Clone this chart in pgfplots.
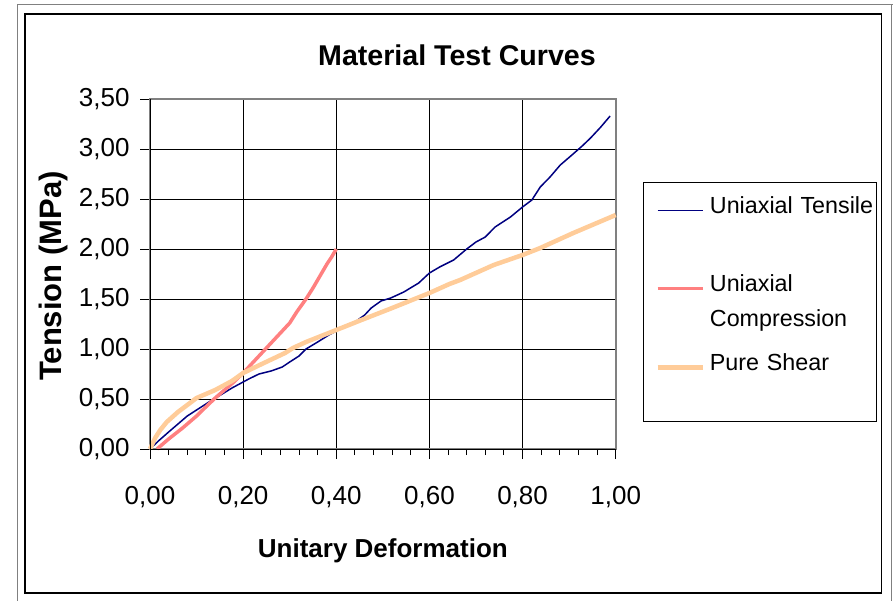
\documentclass[border=0pt]{standalone}
\usepackage{fontspec}
\setmainfont{Liberation Sans}
\usepackage{pgfplots}
\pgfplotsset{compat=1.18}
\definecolor{tensile}{HTML}{000080}
\definecolor{compr}{HTML}{FF8080}
\definecolor{shear}{HTML}{FFCC99}
\definecolor{frame}{HTML}{808080}

\pgfplotstableread{
x y
0 0
0.018 0.08
0.04 0.17
0.06 0.25
0.08 0.33
0.10 0.39
0.13 0.48
0.155 0.55
0.176 0.61
0.20 0.67
0.212 0.70
0.234 0.75
0.26 0.78
0.284 0.82
0.30 0.87
0.32 0.93
0.335 1.00
0.36 1.07
0.384 1.14
0.40 1.18
0.44 1.27
0.461 1.34
0.475 1.41
0.496 1.48
0.517 1.51
0.545 1.57
0.577 1.66
0.60 1.76
0.622 1.82
0.652 1.89
0.68 2.00
0.70 2.07
0.72 2.12
0.741 2.22
0.774 2.32
0.80 2.42
0.82 2.49
0.838 2.62
0.859 2.72
0.881 2.84
0.906 2.94
0.928 3.03
0.946 3.11
0.968 3.22
0.988 3.33
}\tensile

\pgfplotstableread{
x y
0.015 0
0.04 0.10
0.07 0.21
0.10 0.33
0.122 0.43
0.14 0.51
0.16 0.59
0.18 0.67
0.20 0.76
0.22 0.86
0.24 0.96
0.26 1.06
0.28 1.16
0.30 1.26
0.315 1.37
0.335 1.50
0.35 1.61
0.365 1.73
0.38 1.85
0.39 1.92
0.40 2.00
}\compression

\pgfplotstableread{
x y
0 0
0.011 0.11
0.022 0.19
0.036 0.27
0.06 0.37
0.08 0.44
0.10 0.51
0.14 0.59
0.176 0.68
0.20 0.76
0.24 0.85
0.29 0.96
0.307 1.01
0.335 1.07
0.40 1.19
0.454 1.29
0.52 1.41
0.60 1.56
0.643 1.65
0.666 1.69
0.738 1.84
0.80 1.94
0.838 2.01
0.909 2.16
1.0 2.34
}\shear

\begin{document}
\begin{tikzpicture}[x=1pt,y=1pt]
\useasboundingbox (0,0) rectangle (893,600);
\draw[frame, line width=1pt] (17,-10) -- (17,595) -- (905,595);
\draw[frame, line width=1pt] (891.7,595) -- (891.7,-10);
\draw[black, line width=1.3pt] (25,7) rectangle (881.5,586);
\node[font=\bfseries\fontsize{28.6}{34}\selectfont, anchor=base] at (457,534) {Material Test Curves};
\begin{axis}[
  at={(150pt,151pt)}, anchor=south west,
  scale only axis, width=465.7pt, height=350pt,
  xmin=0, xmax=1, ymin=0, ymax=3.5,
  xtick={0,0.2,0.4,0.6,0.8,1},
  ytick={0,0.5,1,1.5,2,2.5,3,3.5},
  minor x tick num=4,
  tick align=outside, tick pos=left,
  major tick length=10pt, minor tick length=6pt,
  every tick/.style={black, line width=0.9pt},
  grid=major, major grid style={black, line width=0.9pt},
  axis line style={frame, line width=1.8pt},
  clip=false,
  tick label style={font=\fontsize{26}{30}\selectfont},
  xticklabel style={yshift=-24pt},
  yticklabel style={xshift=-7pt},
  /pgf/number format/use comma,
  /pgf/number format/fixed,
  /pgf/number format/fixed zerofill,
  /pgf/number format/precision=2,
  /pgf/number format/assume math mode=true,
  xlabel={Unitary Deformation},
  ylabel={Tension (MPa)},
  xlabel style={font=\bfseries\fontsize{26}{30}\selectfont, at={(axis description cs:0.5,-0.3086)}, anchor=base},
  ylabel style={font=\bfseries\fontsize{31}{36}\selectfont, at={(axis description cs:-0.189,0.494)}, anchor=base},
  every axis legend/.style={
    at={(axis description cs:1.0586,0.7629)}, anchor=north west,
    draw=black, line width=0.9pt, fill=white,
    inner sep=0pt, row sep=0pt, column sep=5pt,
    font=\fontsize{23.3}{28}\selectfont,
    cells={anchor=base west},
    nodes={inner sep=0pt, text width=166pt, align=left}},
  legend image code/.code={\path (0pt,0pt); \draw[#1] (12pt,3pt) -- (57pt,3pt);},
]
\addplot[tensile, line width=1.5pt] table {\tensile};
\addlegendentry{\rule[-8pt]{0pt}{39pt}Uniaxial Tensile}
\addplot[compr, line width=3.5pt] table {\compression};
\addlegendentry{\rule[-8pt]{0pt}{78pt}Uniaxial}
\addlegendimage{empty legend}
\addlegendentry{\rule[-8pt]{0pt}{35pt}Compression}
\addplot[shear, line width=4.5pt] table {\shear};
\addlegendentry{\rule[-51pt]{0pt}{87pt}Pure Shear}
\draw[black, line width=1pt] (rel axis cs:0,1) -- (rel axis cs:0,0) -- (rel axis cs:1,0);
\end{axis}
\end{tikzpicture}
\end{document}
